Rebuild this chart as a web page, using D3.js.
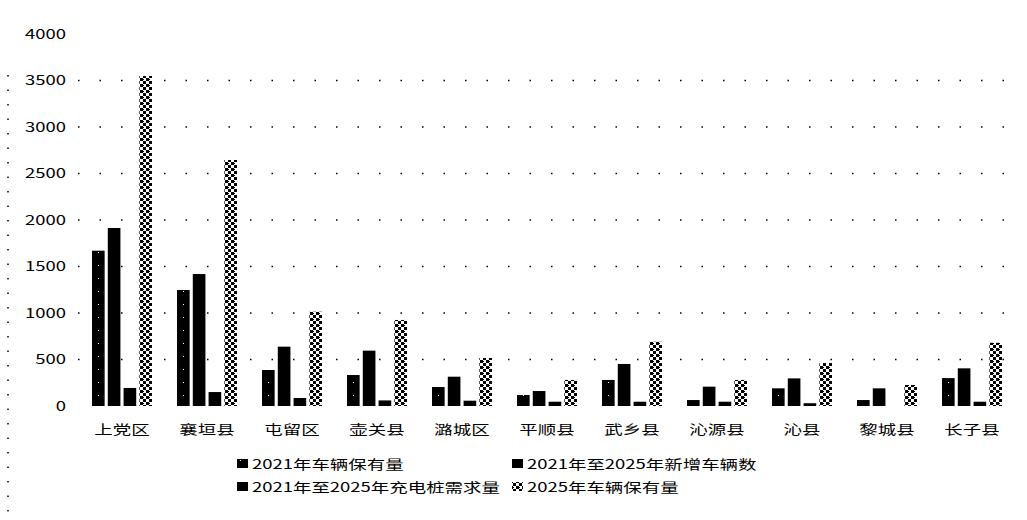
<!DOCTYPE html>
<html><head><meta charset="utf-8">
<script src="https://cdn.jsdelivr.net/npm/d3@7"></script>
<style>body{margin:0;background:#fff;}svg{display:block;}</style>
</head><body>
<svg id="c" width="1027" height="520"></svg>
<script>
const categories = ["上党区","襄垣县","屯留区","壶关县","潞城区","平顺县","武乡县","沁源县","沁县","黎城县","长子县"];
const seriesNames = ["2021年车辆保有量","2021年至2025年新增车辆数","2021年至2025年充电桩需求量","2025年车辆保有量"];
const s2021 = [1670,1247,387,333,204,118,280,64,190,64,300];
const sNew = [1914,1419,638,595,315,161,452,208,297,190,405];
const sCharge = [194,150,86,60,57,46,46,46,30,0,46];
const s2025 = [3548,2645,1014,925,516,280,691,280,462,226,680];
const yTicks = [0,500,1000,1500,2000,2500,3000,3500,4000];

const series = [s2021, sNew, sCharge, s2025];
const svg = d3.select("#c");
const font = "'Noto Sans CJK SC','Noto Sans',sans-serif";
const SX = 1.42;

const defs = svg.append("defs");
const p4 = defs.append("pattern").attr("id","hatch").attr("patternUnits","userSpaceOnUse").attr("width",6).attr("height",6);
p4.append("rect").attr("width",6).attr("height",6).attr("fill","#fff");
p4.append("rect").attr("x",0).attr("y",0).attr("width",3).attr("height",3).attr("fill","#000");
p4.append("rect").attr("x",3).attr("y",3).attr("width",3).attr("height",3).attr("fill","#000");
p4.append("rect").attr("x",2).attr("y",1).attr("width",2).attr("height",1).attr("fill","#000");
const p1 = defs.append("pattern").attr("id","speck").attr("patternUnits","userSpaceOnUse").attr("width",9).attr("height",13);
p1.append("rect").attr("width",9).attr("height",13).attr("fill","#000");
p1.append("rect").attr("x",6).attr("y",5).attr("width",1).attr("height",1).attr("fill","#fff");
const fills = ["url(#speck)","#000","#000","url(#hatch)"];

const x0 = d3.scaleBand().domain(categories).range([79.5,1014.5]).paddingInner(0).paddingOuter(0);
const x1 = d3.scaleBand().domain(d3.range(4)).range([0,60]).paddingInner(0.2);
const y = d3.scaleLinear().domain([0,4000]).range([406,34]);

function stext(g, x, yy, anchor, str){
  return g.append("text").attr("transform",`translate(${x},${yy}) scale(${SX},1)`)
    .attr("text-anchor",anchor).attr("dy","0.35em")
    .attr("font-family",font).attr("font-size",13).attr("fill","#000").text(str);
}

// left dotted border
svg.append("line").attr("x1",8).attr("x2",8).attr("y1",75).attr("y2",520)
  .attr("stroke","#000").attr("stroke-width",1.5).attr("stroke-dasharray","1.5,13");

// grid
svg.append("g").selectAll("line").data(yTicks.filter(d=>d>0 && d<4000)).join("line")
  .attr("x1",78).attr("x2",1010).attr("y1",d=>y(d)).attr("y2",d=>y(d))
  .attr("stroke","#000").attr("stroke-width",1.5).attr("stroke-dasharray","1.5,20");

// y axis labels
const ya = svg.append("g");
yTicks.forEach(t => stext(ya, 66, y(t), "end", d3.format("d")(t)));

// bars
const groups = svg.append("g").selectAll("g").data(categories).join("g")
  .attr("transform",d=>`translate(${x0(d)+x0.bandwidth()/2-30},0)`);
groups.selectAll("rect").data((d,i)=>series.map((s,k)=>({k,v:s[i]}))).join("rect")
  .attr("x",d=>x1(d.k)).attr("width",x1.bandwidth())
  .attr("y",d=>y(d.v)).attr("height",d=>Math.max(0,y(0)-y(d.v)))
  .attr("fill",d=>fills[d.k]);

// x axis labels
const xa = svg.append("g");
categories.forEach(c => stext(xa, x0(c)+x0.bandwidth()/2, 429, "middle", c));

// legend
const legPos = [[237,464],[512,464],[237,487],[512,487]];
const leg = svg.append("g");
seriesNames.forEach((n,i) => {
  leg.append("rect").attr("x",legPos[i][0]).attr("y",legPos[i][1]-5).attr("width",11).attr("height",9).attr("fill",fills[i]);
  stext(leg, legPos[i][0]+15, legPos[i][1], "start", n);
});
</script>
</body></html>
